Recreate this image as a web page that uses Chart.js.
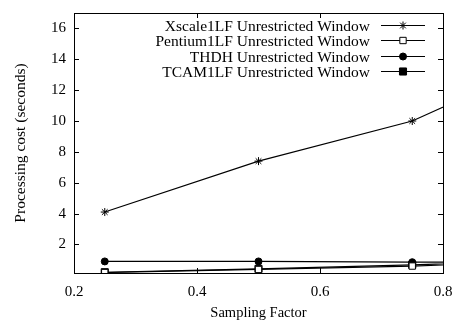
<!DOCTYPE html>
<html>
<head>
<meta charset="utf-8">
<script src="https://cdn.jsdelivr.net/npm/chart.js@4/dist/chart.umd.min.js"></script>
<style>
  html, body { margin: 0; padding: 0; background: #fff; }
  #wrap { width: 455px; height: 320px; }
</style>
</head>
<body>
<div id="wrap"><canvas id="cost"></canvas></div>
<script>
// sampling factors (x) and processing cost in seconds
const samplingFactor = [0.25, 0.5, 0.75, 1.0];
const xscaleCost = [4.1, 7.4, 10.0, 14.5];
const pentiumCost = [0.18, 0.38, 0.6, 0.95];
const thdhCost = [0.9, 0.9, 0.85, 0.85];
const tcamCost = [0.2, 0.42, 0.68, 1.0];

const xTicks = [0.2, 0.4, 0.6, 0.8];
const yTicks = [2, 4, 6, 8, 10, 12, 14, 16];

const FONT = "'Liberation Serif', 'Times New Roman', serif";
const pts = (ys) => samplingFactor.map((x, i) => ({ x, y: ys[i] }));

function series(label, ys, style, fill, radius) {
    return {
        label,
        data: pts(ys),
        borderColor: "#000",
        borderWidth: 1.2,
        pointStyle: style,
        pointRadius: radius,
        pointBackgroundColor: fill,
        pointBorderColor: "#000",
        pointBorderWidth: 1,
        tension: 0
    };
}

// frame + inward ticks on all four sides, gnuplot style
const framePlugin = {
    id: "frame",
    afterDraw(chart) {
        const { ctx, chartArea: a, scales } = chart;
        ctx.save();
        ctx.strokeStyle = "#000";
        ctx.lineWidth = 1;
        ctx.strokeRect(Math.round(a.left) + 0.5, Math.round(a.top) + 0.5,
            Math.round(a.right - a.left), Math.round(a.bottom - a.top));
        const len = 5;
        ctx.beginPath();
        xTicks.forEach(v => {
            const px = Math.round(scales.x.getPixelForValue(v)) + 0.5;
            ctx.moveTo(px, a.bottom); ctx.lineTo(px, a.bottom - len);
            ctx.moveTo(px, a.top); ctx.lineTo(px, a.top + len);
        });
        yTicks.forEach(v => {
            const py = Math.round(scales.y.getPixelForValue(v)) + 0.5;
            ctx.moveTo(a.left, py); ctx.lineTo(a.left + len, py);
            ctx.moveTo(a.right, py); ctx.lineTo(a.right - len, py);
        });
        ctx.stroke();
        ctx.restore();
    }
};

// right aligned key with line sample, top right inside the plot
const keyPlugin = {
    id: "key",
    afterDraw(chart) {
        const { ctx, chartArea: a } = chart;
        ctx.save();
        ctx.font = "15.5px " + FONT;
        ctx.textAlign = "right";
        ctx.textBaseline = "middle";
        chart.data.datasets.forEach((ds, i) => {
            const y = Math.round(a.top + 12 + i * 15.4) + 0.5;
            const x0 = a.right - 62, x1 = a.right - 18;
            ctx.fillStyle = "#000";
            ctx.fillText(ds.label, x0 - 11, y + 1);
            ctx.strokeStyle = "#000";
            ctx.lineWidth = 1;
            ctx.beginPath();
            ctx.moveTo(x0, y);
            ctx.lineTo(x1, y);
            ctx.stroke();
            ctx.fillStyle = ds.pointBackgroundColor;
            Chart.helpers.drawPoint(ctx, {
                pointStyle: ds.pointStyle, radius: ds.pointRadius, rotation: 0, borderWidth: 1
            }, Math.round((x0 + x1) / 2), y);
        });
        ctx.restore();
    }
};

new Chart(document.getElementById("cost"), {
    type: "line",
    data: {
        datasets: [
            series("Xscale1LF Unrestricted Window", xscaleCost, "star", "#000", 4),
            series("Pentium1LF Unrestricted Window", pentiumCost, "rect", "#fff", 4.5),
            series("THDH Unrestricted Window", thdhCost, "circle", "#000", 3.5),
            series("TCAM1LF Unrestricted Window", tcamCost, "rect", "#000", 5)
        ]
    },
    options: {
        responsive: true,
        maintainAspectRatio: false,
        animation: false,
        layout: { padding: { top: 13, right: 12, left: 0, bottom: 0 } },
        plugins: { legend: { display: false }, tooltip: { enabled: false } },
        scales: {
            x: {
                type: "linear",
                min: 0.2,
                max: 0.8,
                afterBuildTicks: (s) => { s.ticks = xTicks.map(v => ({ value: v })); },
                afterFit: (s) => { s.height = 47; s.paddingLeft = 0; s.paddingRight = 0; },
                grid: { display: false, drawTicks: false },
                border: { display: false },
                ticks: {
                    color: "#000",
                    padding: 10,
                    maxRotation: 0,
                    font: { family: FONT, size: 15 },
                    callback: (v) => v.toFixed(1)
                },
                title: {
                    display: true,
                    text: "Sampling Factor",
                    color: "#000",
                    padding: { top: 9, bottom: -2 },
                    font: { family: FONT, size: 14.5 }
                }
            },
            y: {
                min: 0.15,
                max: 17,
                afterBuildTicks: (s) => { s.ticks = yTicks.map(v => ({ value: v })); },
                afterFit: (s) => { s.width = 74; s.paddingTop = 0; s.paddingBottom = 0; },
                grid: { display: false, drawTicks: false },
                border: { display: false },
                ticks: {
                    color: "#000",
                    padding: 8,
                    font: { family: FONT, size: 15 }
                },
                title: {
                    display: true,
                    text: "Processing cost (seconds)",
                    color: "#000",
                    padding: { top: 12, bottom: 4 },
                    font: { family: FONT, size: 15.5 }
                }
            }
        }
    },
    plugins: [framePlugin, keyPlugin]
});
</script>
</body>
</html>
